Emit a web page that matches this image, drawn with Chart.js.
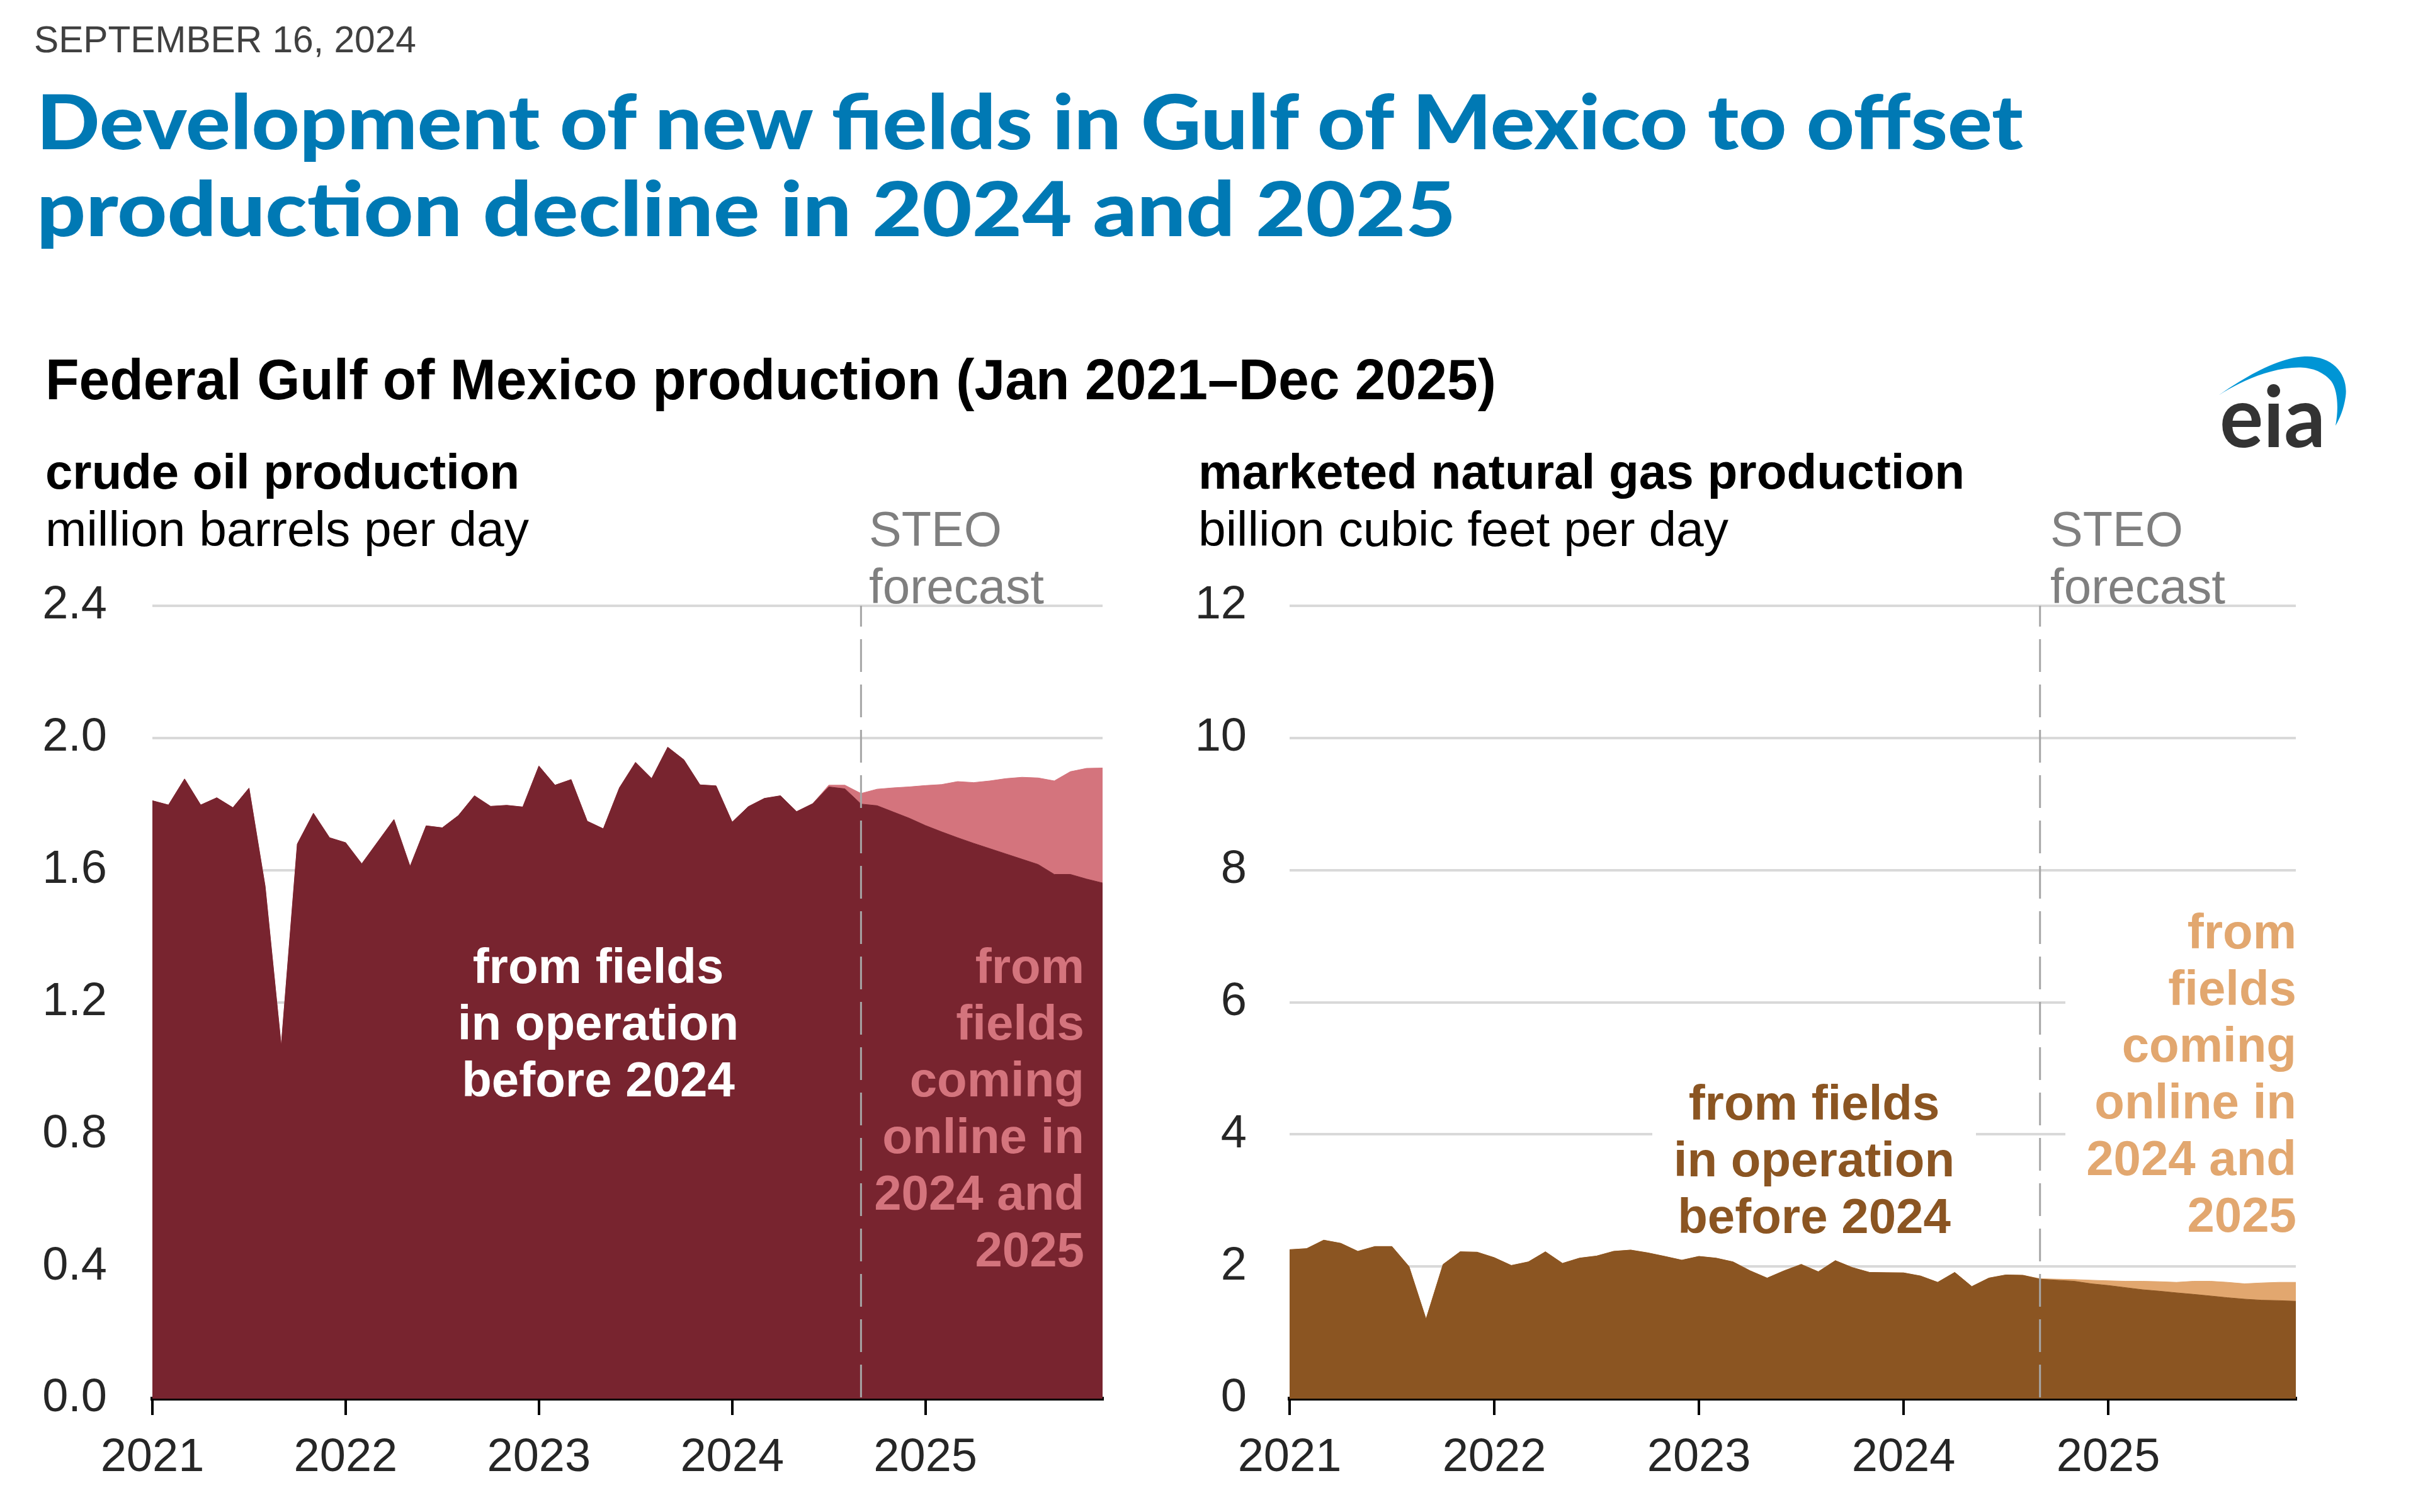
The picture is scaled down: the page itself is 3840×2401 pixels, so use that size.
<!DOCTYPE html>
<html><head><meta charset="utf-8">
<script src="https://cdn.jsdelivr.net/npm/chart.js@4.4.1/dist/chart.umd.min.js"></script>
<style>
html,body{margin:0;padding:0;background:#fff;}
body{width:3840px;height:2401px;position:relative;overflow:hidden;font-family:'Liberation Sans',Arial,sans-serif;}
.t{position:absolute;left:0;top:0;white-space:nowrap;line-height:1;transform-origin:0 0;}
canvas{position:absolute;}
.ann{position:absolute;font-weight:bold;font-size:78px;line-height:90px;white-space:nowrap;}
</style></head>
<body>
<div class="t" id="date" style="font-size:59px;color:#404040;">SEPTEMBER 16, 2024</div>
<div class="t" id="title1" style="font-family:Lato,'Liberation Sans';font-weight:900;font-size:120px;color:#0079b4;">Development of new fields in Gulf of Mexico to offset</div>
<div class="t" id="title2" style="font-family:Lato,'Liberation Sans';font-weight:900;font-size:120px;color:#0079b4;">production decline in 2024 and 2025</div>
<div class="t" id="ctitle" style="font-weight:bold;font-size:91px;color:#000;">Federal Gulf of Mexico production (Jan 2021–Dec 2025)</div>

<canvas id="oil" width="1900" height="1500" style="left:0;top:900px;width:1900px;height:1500px;"></canvas>
<canvas id="gas" width="1940" height="1500" style="left:1900px;top:900px;width:1940px;height:1500px;"></canvas>

<div class="t" id="oilT" style="font-weight:bold;font-size:78px;color:#000;">crude oil production</div>
<div class="t" id="oilU" style="font-size:78px;color:#000;">million barrels per day</div>
<div class="t" id="oilS1" style="font-size:78px;color:#7f7f7f;">STEO</div>
<div class="t" id="oilS2" style="font-size:78px;color:#7f7f7f;">forecast</div>
<div class="t" id="gasT" style="font-weight:bold;font-size:78px;color:#000;">marketed natural gas production</div>
<div class="t" id="gasU" style="font-size:78px;color:#000;">billion cubic feet per day</div>
<div class="t" id="gasS1" style="font-size:78px;color:#7f7f7f;">STEO</div>
<div class="t" id="gasS2" style="font-size:78px;color:#7f7f7f;">forecast</div>

<div class="ann" style="left:650px;top:1489px;width:600px;text-align:center;color:#ffffff;">from fields<br>in operation<br>before 2024</div>
<div class="ann" style="left:1322px;top:1489px;width:400px;text-align:right;color:#d4747d;">from<br>fields<br>coming<br>online in<br>2024 and<br>2025</div>
<div class="ann" style="left:2624px;top:1706px;width:514px;height:270px;background:#fff;text-align:center;color:#8b5522;">from fields<br>in operation<br>before 2024</div>
<div class="ann" style="left:3280px;top:1434px;width:367px;padding-right:20px;height:540px;background:#fff;text-align:right;color:#e2a76f;">from<br>fields<br>coming<br>online in<br>2024 and<br>2025</div>

<svg style="position:absolute;left:3480px;top:540px;" width="280" height="200" viewBox="0 0 280 200">
<path d="M43,88 C90,55 140,28 180,26 C225,24 250,55 245,90 C242,110 236,124 229,136 C234,110 233,80 222,65 C205,45 180,42 160,44 C115,48 75,68 43,88 Z" fill="#0095d5"/>
</svg>
<div class="t" id="eia" style="font-family:Lato,'Liberation Sans';font-weight:bold;font-size:135px;color:#333333;">eia</div>

<script>
// ---------------- data ----------------
const years = ['2021', '2022', '2023', '2024', '2025'];
const monthNames = ['Jan','Feb','Mar','Apr','May','Jun','Jul','Aug','Sep','Oct','Nov','Dec'];
const forecastStart = 'Sep 2024';

// crude oil, million barrels per day
const oilExisting = [
  1.810, 1.797, 1.876, 1.797, 1.819, 1.789, 1.848, 1.551, 1.067, 1.679, 1.772, 1.698,
  1.683, 1.619, 1.686, 1.753, 1.611, 1.734, 1.728, 1.765, 1.825, 1.793, 1.796, 1.791,
  1.915, 1.857, 1.874, 1.748, 1.725, 1.849, 1.926, 1.877, 1.972, 1.934, 1.858, 1.855,
  1.745, 1.792, 1.817, 1.825, 1.777, 1.801, 1.852, 1.846, 1.800, 1.795, 1.776, 1.757,
  1.735, 1.716, 1.698, 1.681, 1.665, 1.649, 1.633, 1.617, 1.587, 1.587, 1.573, 1.561
];
const oilNew = [
  0, 0, 0, 0, 0, 0, 0, 0, 0, 0, 0, 0,
  0, 0, 0, 0, 0, 0, 0, 0, 0, 0, 0, 0,
  0, 0, 0, 0, 0, 0, 0, 0, 0, 0, 0, 0,
  0, 0, 0, 0, 0, 0, 0.005, 0.011, 0.032, 0.050, 0.073, 0.095,
  0.121, 0.143, 0.170, 0.184, 0.205, 0.228, 0.248, 0.262, 0.283, 0.311, 0.335, 0.348
];
// marketed natural gas, billion cubic feet per day
const gasExisting = [
  2.255, 2.271, 2.399, 2.351, 2.230, 2.303, 2.303, 2.000, 1.203, 2.032, 2.223, 2.217,
  2.134, 2.016, 2.070, 2.223, 2.048, 2.127, 2.159, 2.230, 2.249, 2.207, 2.153, 2.096,
  2.153, 2.127, 2.070, 1.936, 1.825, 1.936, 2.032, 1.921, 2.089, 1.984, 1.911, 1.907,
  1.904, 1.856, 1.761, 1.911, 1.697, 1.825, 1.873, 1.867, 1.809, 1.793, 1.777, 1.739,
  1.713, 1.681, 1.649, 1.627, 1.602, 1.579, 1.554, 1.528, 1.506, 1.490, 1.484, 1.474
];
const gasNew = [
  0, 0, 0, 0, 0, 0, 0, 0, 0, 0, 0, 0,
  0, 0, 0, 0, 0, 0, 0, 0, 0, 0, 0, 0,
  0, 0, 0, 0, 0, 0, 0, 0, 0, 0, 0, 0,
  0, 0, 0, 0, 0, 0, 0, 0, 0.006, 0.016, 0.026, 0.054,
  0.071, 0.096, 0.128, 0.144, 0.159, 0.198, 0.223, 0.233, 0.233, 0.262, 0.277, 0.287
];
const oilTicks = ['0.0', '0.4', '0.8', '1.2', '1.6', '2.0', '2.4'];
const gasTicks = ['0', '2', '4', '6', '8', '10', '12'];
const seriesNames = ['from fields in operation before 2024', 'from fields coming online in 2024 and 2025'];

const monthLabels = [];
years.forEach(y => monthNames.forEach(m => monthLabels.push(m + ' ' + y)));

// ---------------- text placement ----------------
function place(id, x, base, w) {
  const el = document.getElementById(id);
  const p = document.createElement('span');
  p.style.cssText = 'display:inline-block;width:0;height:0;vertical-align:baseline;';
  el.appendChild(p);
  const off = p.offsetTop;
  const nat = el.getBoundingClientRect().width;
  const s = w ? w / nat : 1;
  el.style.top = (base - off) + 'px';
  el.style.left = x + 'px';
  el.style.transform = 'scaleX(' + s + ')';
}
place('date', 54, 83, 607);
place('title1', 58, 237, 3155);
place('title2', 58, 375, 2254);
place('ctitle', 72, 634, 2304);
place('oilT', 72, 776, 753);
place('oilU', 72, 867, 768);
place('oilS1', 1380, 867, 211);
place('oilS2', 1380, 958, 278);
place('gasT', 1903, 776, 1217);
place('gasU', 1903, 867, 842);
place('gasS1', 3256, 867, 211);
place('gasS2', 3256, 958, 278);
place('eia', 3525, 710, 168);

// ---------------- charts ----------------
Chart.defaults.font.family = "'Liberation Sans', Arial, sans-serif";

const forecastLine = {
  id: 'forecastLine',
  afterDatasetsDraw(chart) {
    const { ctx, chartArea, scales } = chart;
    const px = scales.x.getPixelForValue(monthLabels.indexOf(forecastStart));
    ctx.save();
    ctx.strokeStyle = '#a6a6a6';
    ctx.lineWidth = 3;
    ctx.setLineDash([52, 20]);
    ctx.lineDashOffset = 19;
    ctx.beginPath();
    ctx.moveTo(px, chartArea.top);
    ctx.lineTo(px, chartArea.bottom);
    ctx.stroke();
    ctx.restore();
  }
};

function makeChart(id, existing, added, cfg) {
  return new Chart(document.getElementById(id), {
    type: 'line',
    data: {
      labels: monthLabels,
      datasets: [
        { label: seriesNames[0], data: existing, fill: 'origin', backgroundColor: cfg.dark, borderColor: cfg.dark,
          borderWidth: 1, pointRadius: 0, tension: 0 },
        { label: seriesNames[1], data: added, fill: '-1', backgroundColor: cfg.light, borderColor: cfg.light,
          borderWidth: 1, pointRadius: 0, tension: 0 }
      ]
    },
    options: {
      responsive: false, animation: false, devicePixelRatio: 1,
      layout: { padding: { left: 0, right: cfg.padRight, top: 62, bottom: 0 } },
      plugins: { legend: { display: false }, tooltip: { enabled: false } },
      scales: {
        x: {
          type: 'category', offset: false, z: 1,
          grid: { display: true, drawOnChartArea: false, drawTicks: true, tickLength: 26, color: '#000', lineWidth: 4 },
          border: { display: true, color: '#000', width: 6 },
          ticks: { autoSkip: false, maxRotation: 0, minRotation: 0, padding: 24, color: '#262626', font: { size: 74 },
                   callback: (v) => years[v / 12] },
          afterBuildTicks: (s) => { s.ticks = s.ticks.filter(t => t.value % 12 === 0); },
          afterFit: (s) => { s.height = 179; }
        },
        y: {
          stacked: true, min: 0, max: cfg.max,
          grid: { color: '#d9d9d9', lineWidth: 4, drawTicks: false },
          border: { display: false },
          ticks: { stepSize: cfg.step, padding: cfg.yPad, color: '#262626', font: { size: 74 },
                   callback: (v) => cfg.labels[Math.round(v / cfg.step)] },
          afterFit: (s) => { s.width = cfg.yWidth; s.paddingTop = 0; s.paddingBottom = 0; }
        }
      }
    },
    plugins: [forecastLine]
  });
}

makeChart('oil', oilExisting, oilNew, {
  dark: '#78242f', light: '#d4747d', max: 2.4, step: 0.4, labels: oilTicks,
  yWidth: 242, yPad: 72, padRight: 149
});
makeChart('gas', gasExisting, gasNew, {
  dark: '#8b5522', light: '#e2a76f', max: 12, step: 2, labels: gasTicks,
  yWidth: 148, yPad: 68, padRight: 194
});
</script>
</body></html>
